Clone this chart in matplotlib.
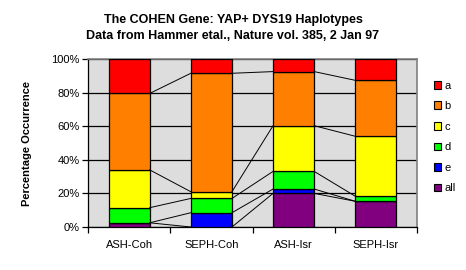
import matplotlib
matplotlib.use("Agg")
import matplotlib.pyplot as plt
from matplotlib.patches import Patch
from matplotlib.ticker import FixedLocator, FuncFormatter

plt.rcParams['font.family'] = ['Liberation Sans', 'DejaVu Sans']

categories = ["ASH-Coh", "SEPH-Coh", "ASH-Isr", "SEPH-Isr"]
series_names = ["all", "e", "d", "c", "b", "a"]
v_all = [2.5, 0.0, 20.0, 15.3]
v_e = [0.0, 8.5, 2.6, 0.0]
v_d = [9.0, 8.5, 10.5, 3.0]
v_c = [22.5, 4.0, 27.2, 35.7]
v_b = [45.5, 70.5, 32.2, 33.3]
v_a = [20.5, 8.5, 7.5, 12.7]
series_values = [v_all, v_e, v_d, v_c, v_b, v_a]
colors = ["#800080", "#0000FF", "#00FF00", "#FFFF00", "#FF8000", "#FF0000"]

fig = plt.figure(figsize=(4.66, 2.70), dpi=100)
ax = fig.add_axes([88/466, 1-227/270, (417-88)/466, (227-59)/270])
ax.set_facecolor("#DDDDDD")

x = list(range(len(categories)))
w = 0.5
bottom = [0.0]*len(categories)
tops_all = []
for name, vals, col in zip(series_names, series_values, colors):
    ax.bar(x, vals, w, bottom=bottom, color=col, edgecolor="black", linewidth=0.9, zorder=3)
    bottom = [b + v for b, v in zip(bottom, vals)]
    tops_all.append(list(bottom))

# series lines
for tops in tops_all[:-1]:
    for i in range(len(categories)-1):
        ax.plot([x[i]+w/2, x[i+1]-w/2], [tops[i], tops[i+1]], color="black", lw=0.7, zorder=4)

ax.set_xlim(-0.5, len(categories)-0.5)
ax.set_ylim(0, 100)
ax.set_yticks([0, 20, 40, 60, 80, 100])
ax.yaxis.set_major_formatter(FuncFormatter(lambda v, p: f"{int(v)}%"))
ax.grid(axis="y", color="black", lw=0.9, zorder=1)
ax.set_axisbelow(True)
ax.set_xticks(x)
ax.set_xticklabels(categories, fontsize=8)
ax.tick_params(axis="x", length=0, pad=9)
ax.xaxis.set_minor_locator(FixedLocator([i-0.5 for i in range(len(categories)+1)]))
ax.tick_params(axis="x", which="minor", length=4, width=0.9, direction="out", color="black")
ax.tick_params(axis="y", length=4, width=0.9, direction="out", labelsize=8, pad=2)

for s in ["left", "bottom"]:
    ax.spines[s].set_color("black")
    ax.spines[s].set_linewidth(0.9)
for s in ["top", "right"]:
    ax.spines[s].set_color("#808080")
    ax.spines[s].set_linewidth(1.2)

ax.set_ylabel("Percentage Occurrence", fontsize=8, fontweight="bold", labelpad=14)

fig.text(233/466, 1-20/270, "The COHEN Gene: YAP+ DYS19 Haplotypes", ha="center", va="center",
         fontsize=9, fontweight="bold")
fig.text(233/466, 1-36/270, "Data from Hammer etal., Nature vol. 385, 2 Jan 97", ha="center", va="center",
         fontsize=9, fontweight="bold")

handles = [Patch(facecolor=c, edgecolor="black", linewidth=0.8, label=n)
           for n, c in zip(series_names, colors)][::-1]
fig.legend(handles=handles, loc="center left", bbox_to_anchor=(428/466, 1-137/270), frameon=False,
           fontsize=8, handlelength=0.7, handleheight=0.7, handletextpad=0.3, labelspacing=0.95,
           borderpad=0)

fig.savefig("out.png", dpi=100, facecolor="white")
